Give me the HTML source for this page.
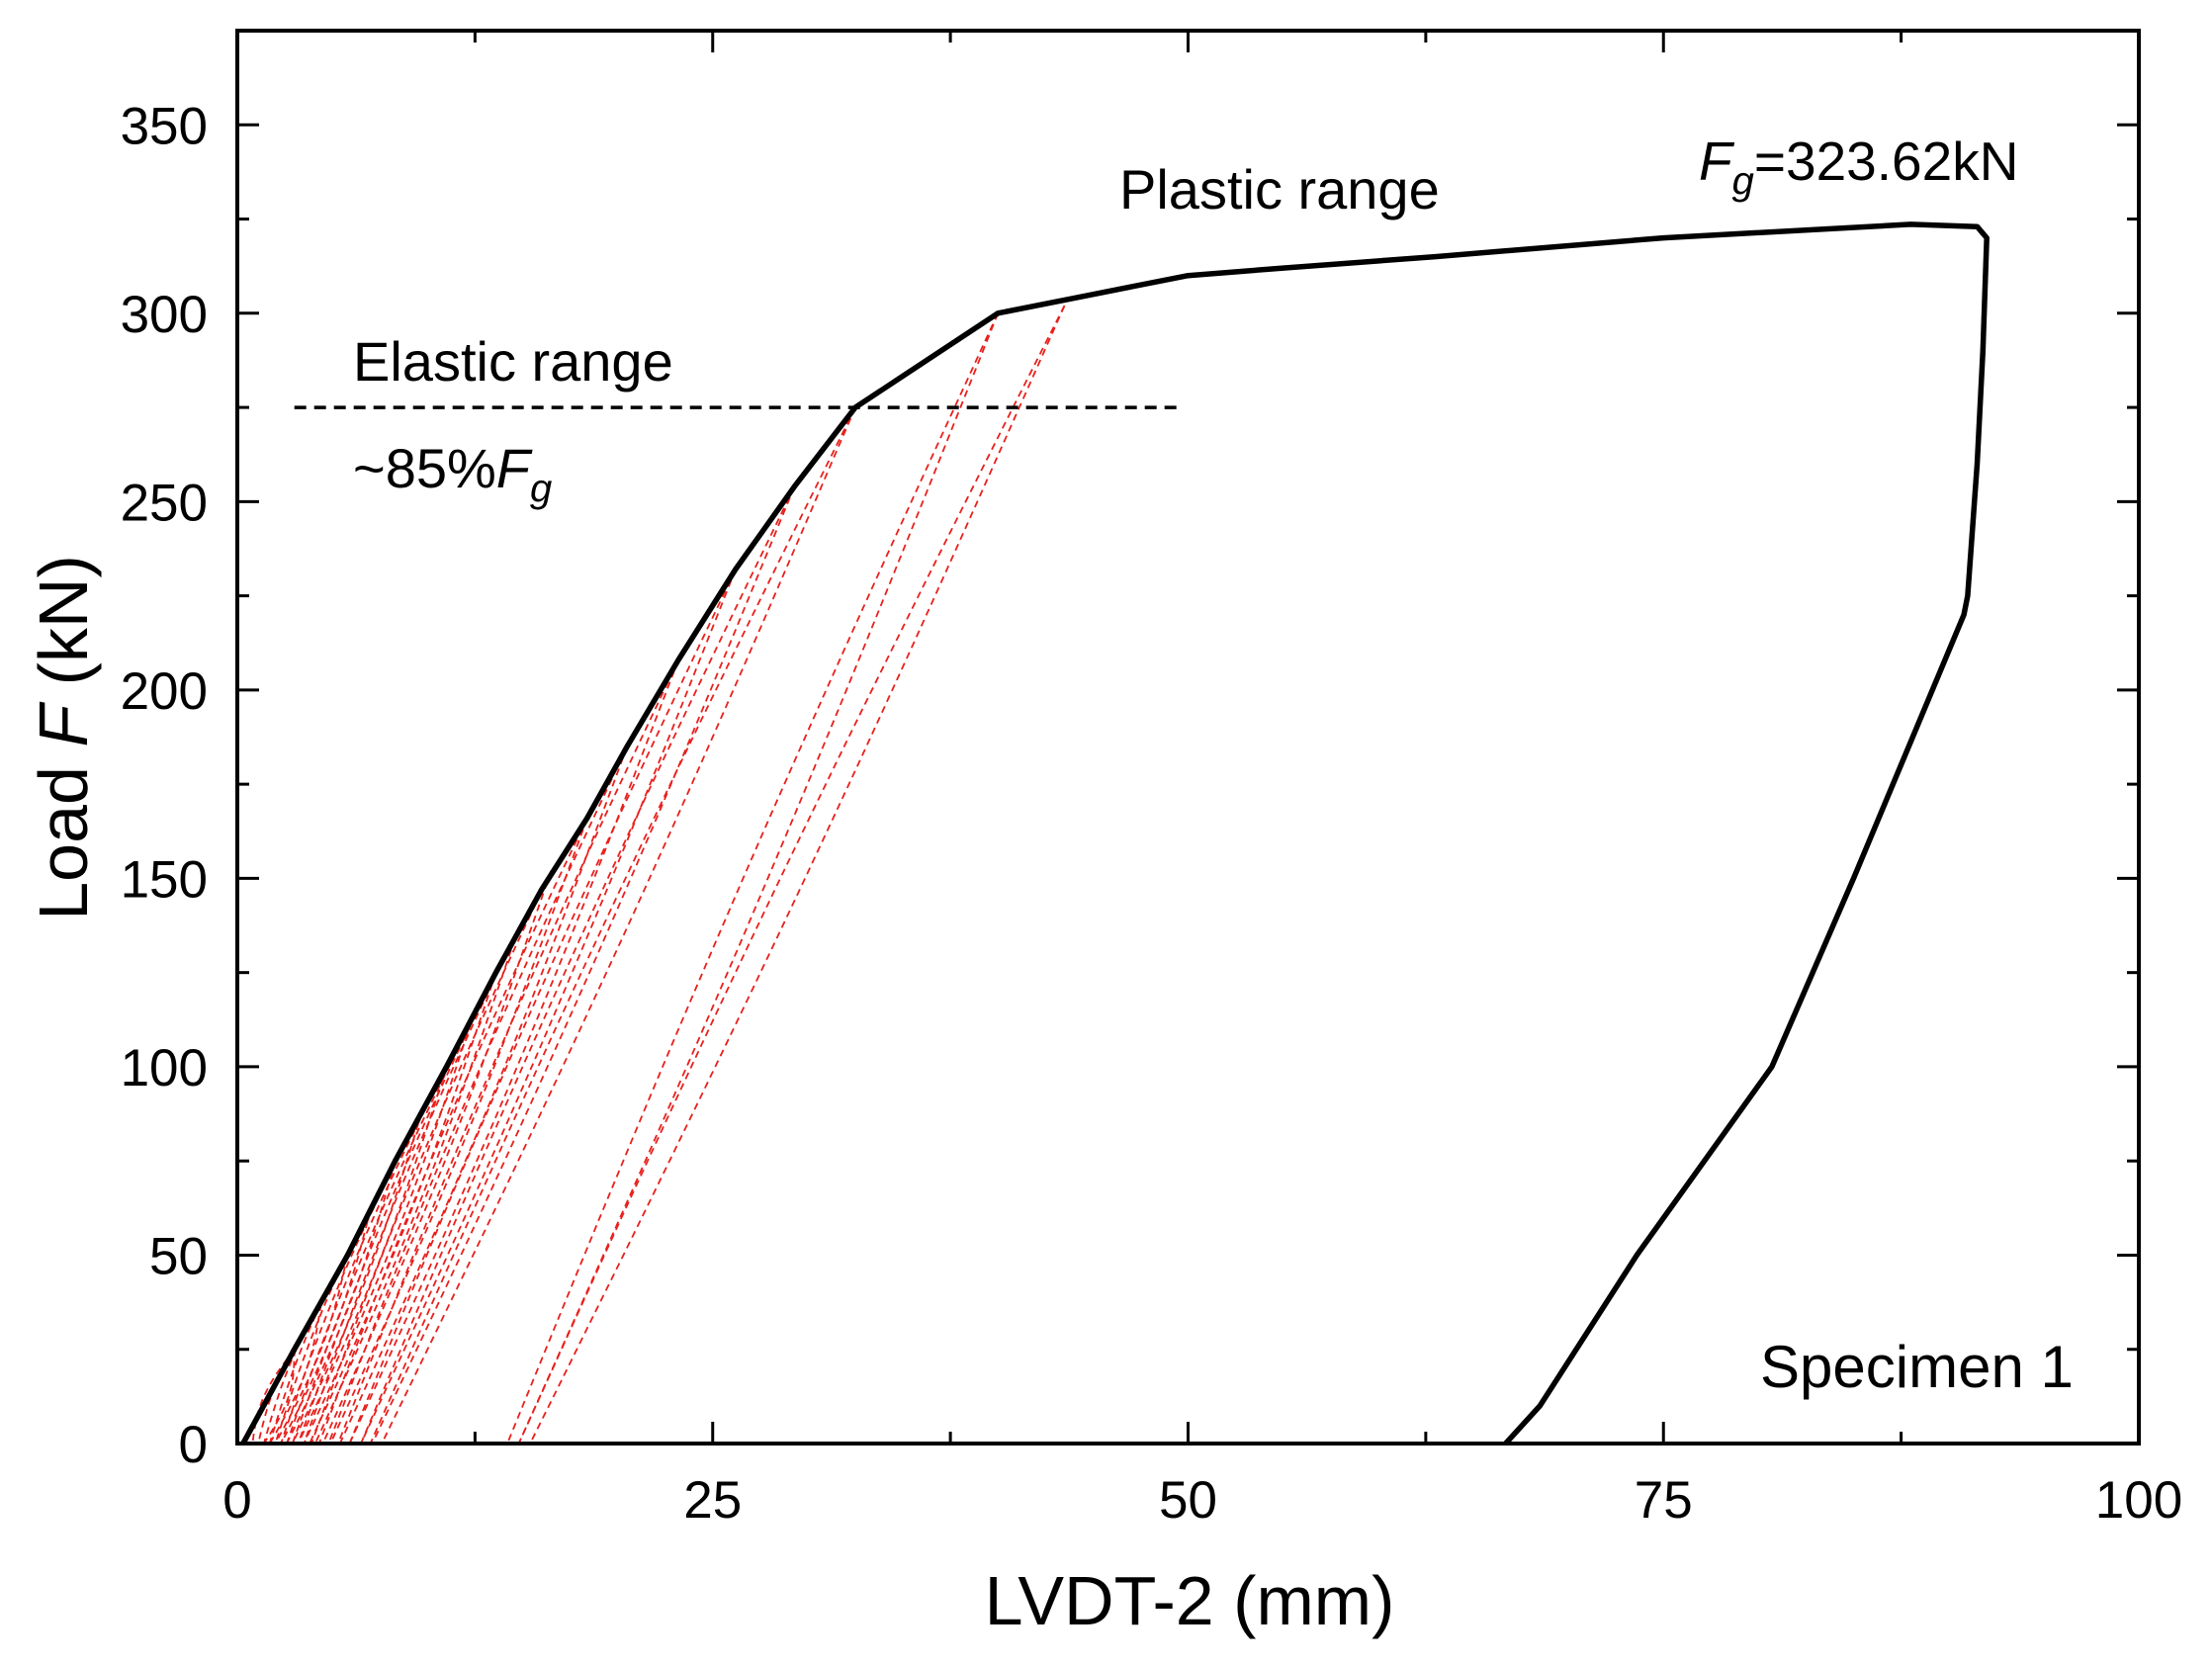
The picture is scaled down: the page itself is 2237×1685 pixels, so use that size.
<!DOCTYPE html>
<html><head><meta charset="utf-8"><style>
html,body{margin:0;padding:0;background:#fff;}
svg{display:block;font-family:"Liberation Sans",Arial,sans-serif;}
</style></head><body>
<svg id="chart" width="2237" height="1685" viewBox="0 0 2237 1685" xmlns="http://www.w3.org/2000/svg">
<rect width="2237" height="1685" fill="#fff"/>
<g id="redg"></g>
<g id="blackg"></g>
<g id="axes"></g>
<text x="1203" y="1643" font-size="70" text-anchor="middle">LVDT-2 (mm)</text>
<text transform="translate(88,746) rotate(-90)" font-size="70" text-anchor="middle">Load <tspan font-style="italic">F</tspan> (kN)</text>
<text x="357" y="385" font-size="56">Elastic range</text>
<text x="357" y="493" font-size="56">~85%<tspan font-style="italic">F</tspan><tspan font-style="italic" font-size="40" dy="14">g</tspan></text>
<text x="1132" y="211" font-size="56">Plastic range</text>
<text x="1718" y="182" font-size="55"><tspan font-style="italic">F</tspan><tspan font-style="italic" font-size="40" dy="14">g</tspan><tspan dy="-14">=323.62kN</tspan></text>
<text x="1780" y="1403" font-size="60">Specimen 1</text>
</svg>
<script>
// Envelope (black) curve data
const envX = [0.3,3,5.8,8.3,11,13.6,16,18.4,20.5,23.2,26.2,29.3,32.5,40,44,47,50,55,63,75,88,91.5,92,91.8,91.5,91,90.8,85,80.7,73.6,68.5,66.7];
const envF = [0,25,50,75,100,125,147,166,185,208,232,254,275,300,304,307,310,312,315,320,323.6,323,320,290,260,225,220,150,100,50,10,0];
// Unload/reload cycles (red dashed)
const cycPeakX = [3,4.4,5.8,7,8.3,9.7,11,12.3,13.6,14.8,16.5,18.4,20.5,23.2,26.2,29.3,32.5,40,43.5];
const cycPeakF = [25,37,50,62,75,88,100,112,125,137,152,166,185,208,232,254,275,300,302];
const cycResX  = [0.8,1.1,1.4,1.7,2.0,2.3,2.6,2.9,3.2,3.5,3.9,4.3,4.8,5.3,5.9,6.5,7.0,14.2,14.8];
const xTicks = [0,25,50,75,100];
const yTicks = [0,50,100,150,200,250,300,350];

const L=240,R=2163,T=31,B=1460,XMAX=100,YMAX=375;
const sx=v=>L+(R-L)*v/XMAX, sy=v=>B-(B-T)*v/YMAX;
const NS="http://www.w3.org/2000/svg";
function mk(tag,attrs,parent){const e=document.createElementNS(NS,tag);for(const k in attrs)e.setAttribute(k,attrs[k]);parent.appendChild(e);return e;}

const redg=document.getElementById('redg');
for(let i=0;i<cycPeakX.length;i++){
  const px=cycPeakX[i],pf=cycPeakF[i],rx=cycResX[i];
  for(let k=0;k<2;k++){
    let d='';
    const off=k*0.6;
    for(let s=0;s<=20;s++){
      const t=s/20;
      const f=pf*(1-t);
      const bow=(k===0?-1:1)*0.5*Math.sin(Math.PI*t);
      const x=px+(rx+off-px)*t+bow;
      d+=(s?'L':'M')+sx(x).toFixed(1)+','+sy(f).toFixed(1);
    }
    const p=mk('path',{d:d,fill:'none',stroke:'#e8201c','stroke-width':1.8,'stroke-dasharray':'7,5'},redg);
    
    
  }
}
const blackg=document.getElementById('blackg');
let d='';envX.forEach((x,i)=>{d+=(i?'L':'M')+sx(x).toFixed(1)+','+sy(envF[i]).toFixed(1);});
const env=mk('path',{d:d,fill:'none',stroke:'#000','stroke-width':5.5,'stroke-linejoin':'round'},blackg);


const hl=mk('line',{x1:sx(3),x2:sx(49.4),y1:sy(275),y2:sy(275),stroke:'#000','stroke-width':3.5,'stroke-dasharray':'12,8'},blackg);



const ax=document.getElementById('axes');
const fr=mk('rect',{x:L,y:T,width:R-L,height:B-T,fill:'none',stroke:'#000','stroke-width':4},ax);


for(let v=0;v<=100;v+=12.5){
  const maj=v%25===0,len=maj?22:12;
  mk('line',{x1:sx(v),x2:sx(v),y1:B,y2:B-len,stroke:'#000','stroke-width':3},ax);
  mk('line',{x1:sx(v),x2:sx(v),y1:T,y2:T+len,stroke:'#000','stroke-width':3},ax);
}
for(let v=0;v<=375;v+=25){
  const maj=v%50===0,len=maj?22:12;
  mk('line',{x1:L,x2:L+len,y1:sy(v),y2:sy(v),stroke:'#000','stroke-width':3},ax);
  mk('line',{x1:R,x2:R-len,y1:sy(v),y2:sy(v),stroke:'#000','stroke-width':3},ax);
}
xTicks.forEach(v=>{const t=mk('text',{x:sx(v),y:1535,'font-size':53,'text-anchor':'middle'},ax);t.textContent=v;
  
  });
yTicks.forEach(v=>{const t=mk('text',{x:210,y:sy(v)+19,'font-size':53,'text-anchor':'end'},ax);t.textContent=v;
  
  });
</script>
</body></html>
